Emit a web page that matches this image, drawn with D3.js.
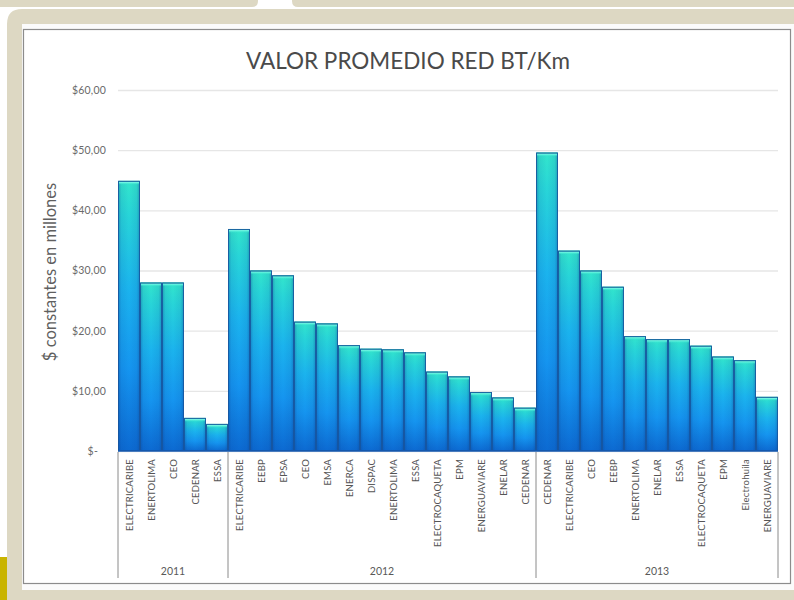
<!DOCTYPE html>
<html><head><meta charset="utf-8">
<script src="https://cdn.jsdelivr.net/npm/d3@7/dist/d3.min.js"></script>
<style>body{margin:0;background:#fff;}svg{display:block;}</style>
</head><body>
<svg id="chart" width="794" height="600"></svg>
<script>
// ---- data ----
const years = ["2011", "2012", "2013"];
const cats2011 = ["ELECTRICARIBE","ENERTOLIMA","CEO","CEDENAR","ESSA"];
const vals2011 = [44.9, 28.0, 28.0, 5.5, 4.5];
const cats2012 = ["ELECTRICARIBE","EEBP","EPSA","CEO","EMSA","ENERCA","DISPAC","ENERTOLIMA","ESSA","ELECTROCAQUETA","EPM","ENERGUAVIARE","ENELAR","CEDENAR"];
const vals2012 = [36.9, 30.0, 29.2, 21.5, 21.2, 17.6, 17.0, 16.9, 16.4, 13.2, 12.4, 9.8, 8.9, 7.2];
const cats2013 = ["CEDENAR","ELECTRICARIBE","CEO","EEBP","ENERTOLIMA","ENELAR","ESSA","ELECTROCAQUETA","EPM","Electrohuila","ENERGUAVIARE"];
const vals2013 = [49.6, 33.3, 30.0, 27.3, 19.1, 18.6, 18.6, 17.5, 15.7, 15.1, 9.0];
const yTicks = [0, 10, 20, 30, 40, 50, 60];
const title = "VALOR PROMEDIO RED BT/Km";
const yTitle = "$ constantes en millones";

const groups = [
  {year: years[0], cats: cats2011, vals: vals2011},
  {year: years[1], cats: cats2012, vals: vals2012},
  {year: years[2], cats: cats2013, vals: vals2013}
];
const rows = [];
groups.forEach((g, gi) => g.cats.forEach((c, i) => rows.push({id: rows.length, group: gi, cat: c, value: g.vals[i]})));

const svg = d3.select("#chart");
const font = "Lato, 'Open Sans', sans-serif";

// ---- frame / background ----
const beige = "#ddd8c3";
svg.append("path").attr("fill", beige)
  .attr("d", "M0,0 H258 V1 Q258,7 252,7 H0 Z");
svg.append("path").attr("fill", beige)
  .attr("d", "M292,0 H794 V7 H298 Q292,7 292,1 Z");
svg.append("path").attr("fill", beige)
  .attr("d", "M7,24 Q7,9 22,9 H794 V600 H7 Z");
svg.append("rect").attr("x", 0).attr("y", 557).attr("width", 7).attr("height", 43).attr("fill", "#c9b400");
svg.append("rect").attr("x", 22).attr("y", 24).attr("width", 772).attr("height", 566).attr("fill", "#fbfbfb");
svg.append("rect").attr("x", 23.5).attr("y", 29.5).attr("width", 767).attr("height", 554)
  .attr("fill", "#fff").attr("stroke", "#8c8c8c").attr("stroke-width", 1.2);

// ---- scales ----
const x0 = 118, x1 = 778, y0 = 451, yTop = 90;
const x = d3.scaleBand().domain(rows.map(d => d.id)).range([x0, x1]).padding(0);
const y = d3.scaleLinear().domain([0, 60]).range([y0, yTop]);

// ---- gradients ----
const defs = svg.append("defs");
const vg = defs.append("linearGradient").attr("id", "vg").attr("x1", 0).attr("y1", 0).attr("x2", 0).attr("y2", 1);
[[0, "#33e6cc"], [0.12, "#28d6d8"], [0.4, "#1bb4ee"], [0.7, "#1595f0"], [1, "#0c6ad2"]]
  .forEach(([o, c]) => vg.append("stop").attr("offset", o).attr("stop-color", c));
const hg = defs.append("linearGradient").attr("id", "hg").attr("x1", 0).attr("y1", 0).attr("x2", 1).attr("y2", 0);
[[0, 0.4], [0.15, 0.1], [0.5, 0], [0.85, 0.1], [1, 0.4]]
  .forEach(([o, a]) => hg.append("stop").attr("offset", o).attr("stop-color", "#0a3a8a").attr("stop-opacity", a));
const tg = defs.append("linearGradient").attr("id", "tg").attr("x1", 0).attr("y1", 0).attr("x2", 0).attr("y2", 1);
[[0, "#1fb8a8", 1], [0.4, "#6ff5e2", 1], [1, "#35e8cf", 0]]
  .forEach(([o, c, a]) => tg.append("stop").attr("offset", o).attr("stop-color", c).attr("stop-opacity", a));

// ---- gridlines ----
svg.append("g").attr("transform", `translate(${x0},0)`)
  .call(d3.axisLeft(y).tickValues(yTicks).tickSize(-(x1 - x0)).tickFormat(""))
  .call(g => g.select(".domain").remove())
  .call(g => g.selectAll("line").attr("stroke", "#e6e6e6").attr("stroke-width", 1.3));

// ---- y axis labels ----
const yAxis = svg.append("g").attr("transform", `translate(${x0 - 12},0)`)
  .call(d3.axisLeft(y).tickValues(yTicks).tickSize(0)
    .tickFormat(v => v === 0 ? "$-" : "$" + d3.format(".2f")(v).replace(".", ",")));
yAxis.select(".domain").remove();
yAxis.selectAll("text").attr("font-family", font).attr("font-size", 10.5).attr("fill", "#6a6a6a")
  .attr("letter-spacing", 0.2).attr("x", v => v === 0 ? -8 : 0);

// ---- bars ----
const bars = svg.append("g");
const bw = x.bandwidth();
rows.forEach(d => {
  const bx = x(d.id), by = y(d.value), bh = y0 - y(d.value);
  bars.append("rect").attr("x", bx).attr("y", by).attr("width", bw).attr("height", bh).attr("fill", "url(#vg)");
  bars.append("rect").attr("x", bx).attr("y", by).attr("width", bw).attr("height", bh).attr("fill", "url(#hg)");
  bars.append("rect").attr("x", bx + 1).attr("y", by).attr("width", bw - 2).attr("height", 4).attr("fill", "url(#tg)");
  bars.append("rect").attr("x", bx + 0.5).attr("y", by + 0.5).attr("width", bw - 1).attr("height", bh - 1)
    .attr("fill", "none").attr("stroke", "#17559e").attr("stroke-width", 1).attr("stroke-opacity", 0.85);
});
svg.append("line").attr("x1", x0).attr("x2", x1).attr("y1", y0).attr("y2", y0)
  .attr("stroke", "#1558b0").attr("stroke-width", 1.5);

// ---- x category labels ----
svg.append("g").selectAll("text").data(rows).join("text")
  .attr("transform", d => `translate(${x(d.id) + bw / 2 + 3.5},${y0 + 8}) rotate(-90)`)
  .attr("text-anchor", "end")
  .attr("font-family", font).attr("font-size", 9.5).attr("letter-spacing", 0.2).attr("fill", "#555")
  .text(d => d.cat);

// ---- group separators & year labels ----
const bounds = [0];
groups.forEach(g => bounds.push(bounds[bounds.length - 1] + g.cats.length));
const sep = svg.append("g");
bounds.forEach(b => {
  const xx = b < rows.length ? x(b) : x1;
  sep.append("line").attr("x1", xx).attr("x2", xx).attr("y1", y0 + 1).attr("y2", 578)
    .attr("stroke", "#8a8a8a").attr("stroke-width", 1);
});
groups.forEach((g, gi) => {
  const a = x(bounds[gi]);
  const b = bounds[gi + 1] < rows.length ? x(bounds[gi + 1]) : x1;
  sep.append("text").attr("x", (a + b) / 2).attr("y", 575).attr("text-anchor", "middle")
    .attr("font-family", font).attr("font-size", 10.5).attr("fill", "#595959").text(g.year);
});

// ---- titles ----
svg.append("text").attr("x", 408).attr("y", 69).attr("text-anchor", "middle")
  .attr("font-family", font).attr("font-size", 22.5).attr("fill", "#4a4a4a").text(title);
svg.append("text").attr("transform", "translate(56,272) rotate(-90)").attr("text-anchor", "middle")
  .attr("font-family", font).attr("font-size", 16.5).attr("fill", "#5f5f5f").text(yTitle);
</script>
</body></html>
